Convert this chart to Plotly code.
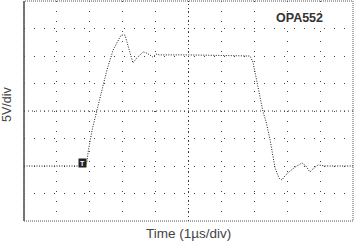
import plotly.graph_objects as go

# Time in divisions (1 µs/div), voltage in divisions (5 V/div)
time_div = [0, 1.76, 1.91, 1.95, 2.07, 2.22, 2.31, 2.52, 2.71, 2.86, 2.95, 3.07, 3.19,
            3.31, 3.43, 3.62, 3.74, 3.92, 4.01, 4.13, 5.0, 6.0, 6.87, 6.96, 7.08,
            7.26, 7.36, 7.48, 7.63, 7.75, 7.84, 7.93, 8.05, 8.24, 8.45, 8.57, 8.69,
            8.81, 8.94, 9.15, 10.0]
volt_div = [-2.0, -2.0, -1.89, -1.49, -0.69, 0.04, 0.51, 1.49, 2.22, 2.58, 2.76, 2.76, 2.29,
            1.75, 1.93, 2.15, 2.1, 1.96, 2.07, 2.04, 2.04, 2.02, 2.0, 1.78, 1.02,
            0.0, -0.4, -1.05, -2.07, -2.44, -2.51, -2.36, -2.22, -2.04, -1.89, -2.0, -2.22,
            -2.07, -1.96, -2.0, -2.0]
trigger_t = 1.9
trigger_v = -1.9
x_range = [0, 10]
y_range = [-4, 4]
label_name = "OPA552"
x_title = "Time (1µs/div)"
y_title = "5V/div"

fig = go.Figure()
fig.add_trace(go.Scatter(
    x=time_div, y=volt_div, mode="lines",
    line=dict(color="#1a1a1a", width=1, dash="1px,1.5px"),
    hoverinfo="skip", showlegend=False))

# center cross lines (denser dots)
fig.add_shape(type="line", xref="x", yref="y", x0=x_range[0], x1=x_range[1], y0=0, y1=0,
              line=dict(color="#333", width=1, dash="1px,3px"), layer="below")
fig.add_shape(type="line", xref="x", yref="y", x0=5, x1=5, y0=y_range[0], y1=y_range[1],
              line=dict(color="#333", width=1, dash="1px,3px"), layer="below")

# frame
fig.add_shape(type="rect", xref="paper", yref="paper", x0=0, x1=1, y0=0, y1=1,
              line=dict(color="#555", width=1, dash="1px,1px"))
fig.add_shape(type="line", xref="paper", yref="paper", x0=0, x1=0, y0=0, y1=1,
              line=dict(color="#555", width=1.5))

# trigger marker
fig.add_annotation(x=trigger_t, y=trigger_v, xref="x", yref="y", text="<b>T</b>",
                   showarrow=False, font=dict(family="Liberation Sans", size=7, color="white"),
                   bgcolor="#222", borderpad=0, xanchor="right", yanchor="middle",
                   width=7, height=8)

fig.add_annotation(x=0.915, y=0.923, xref="paper", yref="paper", text="<b>" + label_name + "</b>",
                   showarrow=False, xanchor="right", yanchor="middle",
                   font=dict(family="Liberation Sans", size=12.5, color="#333"))
fig.add_annotation(x=0.5, y=-0.055, xref="paper", yref="paper", text=x_title,
                   showarrow=False, xanchor="center", yanchor="middle",
                   font=dict(family="Liberation Sans", size=13.5, color="#444"))
fig.add_annotation(x=-0.05, y=0.53, xref="paper", yref="paper", text=y_title, textangle=-90,
                   showarrow=False, xanchor="center", yanchor="middle",
                   font=dict(family="Liberation Sans", size=12.5, color="#444"))

fig.update_xaxes(range=x_range, dtick=1, showticklabels=False, ticks="", zeroline=False,
                 showgrid=True, gridcolor="#444", gridwidth=1, griddash="1px,9px", showline=False)
fig.update_yaxes(range=y_range, dtick=1, showticklabels=False, ticks="", zeroline=False,
                 showgrid=True, gridcolor="#444", gridwidth=1, griddash="1px,9px", showline=False)

fig.update_layout(width=355, height=244, margin=dict(l=24, r=2, t=1, b=23),
                  paper_bgcolor="white", plot_bgcolor="white", showlegend=False)

fig.write_html("out.html")
